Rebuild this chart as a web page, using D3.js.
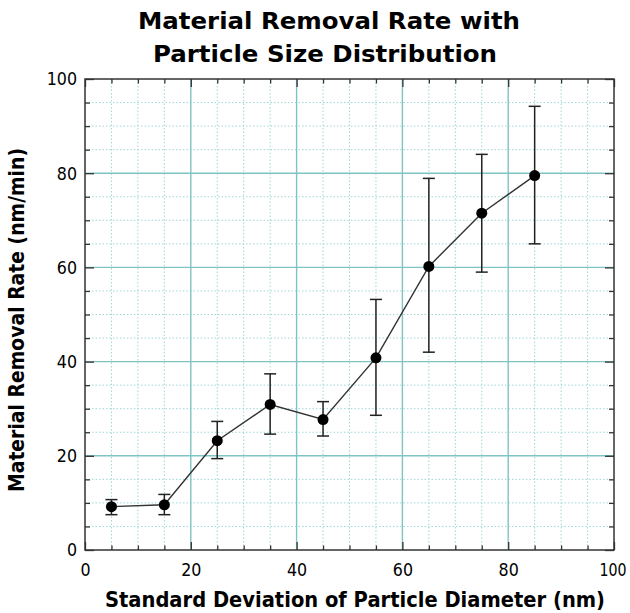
<!DOCTYPE html>
<html><head><meta charset="utf-8">
<script src="https://cdn.jsdelivr.net/npm/d3@7"></script>
<style>body{margin:0;background:#fff;} svg{display:block;}</style>
</head><body>
<svg id="chart" width="630" height="613"></svg>
<script>
const xValues = [5, 15, 25, 35, 45, 55, 65, 75, 85];
const rates = [9.2, 9.6, 23.2, 30.9, 27.7, 40.8, 60.2, 71.5, 79.5];
const errLow = [7.5, 7.5, 19.4, 24.6, 24.2, 28.6, 42.0, 59.0, 65.0];
const errHigh = [10.7, 11.8, 27.3, 37.4, 31.5, 53.2, 78.9, 84.0, 94.2];
const majorTicks = [0, 20, 40, 60, 80, 100];
const titleLines = ["Material Removal Rate with", "Particle Size Distribution"];
const xLabel = "Standard Deviation of Particle Diameter (nm)";
const yLabel = "Material Removal Rate (nm/min)";

const svg = d3.select("#chart");
const L = 85, R = 614, T = 79, B = 550;
const x = d3.scaleLinear().domain([0, 100]).range([L, R]);
const y = d3.scaleLinear().domain([0, 100]).range([B, T]);
const minor = d3.range(5, 100, 5).filter(v => v % 20 !== 0);

// minor grid
const g = svg.append("g");
g.selectAll(".mgx").data(minor).enter().append("line")
  .attr("x1", d => x(d)).attr("x2", d => x(d)).attr("y1", T).attr("y2", B)
  .attr("stroke", "#a0d6d6").attr("stroke-width", 1).attr("stroke-dasharray", "1.5,2");
g.selectAll(".mgy").data(minor).enter().append("line")
  .attr("y1", d => y(d)).attr("y2", d => y(d)).attr("x1", L).attr("x2", R)
  .attr("stroke", "#a0d6d6").attr("stroke-width", 1).attr("stroke-dasharray", "1.5,2");
// major grid
const inner = [20, 40, 60, 80];
g.selectAll(".Mgx").data(inner).enter().append("line")
  .attr("x1", d => x(d)).attr("x2", d => x(d)).attr("y1", T).attr("y2", B)
  .attr("stroke", "#80c3c3").attr("stroke-width", 1.4);
g.selectAll(".Mgy").data(inner).enter().append("line")
  .attr("y1", d => y(d)).attr("y2", d => y(d)).attr("x1", L).attr("x2", R)
  .attr("stroke", "#80c3c3").attr("stroke-width", 1.4);

// axes with inward ticks
function axisTicks(axisGen, transform, vals, size) {
  svg.append("g").attr("transform", transform)
    .call(axisGen.tickValues(vals).tickSize(size).tickFormat(""))
    .call(s => s.select(".domain").remove())
    .selectAll("line").attr("stroke", "#333").attr("stroke-width", 1.3);
}
axisTicks(d3.axisTop(x), `translate(0,${B})`, minor, 4.5);
axisTicks(d3.axisTop(x), `translate(0,${B})`, majorTicks, 8);
axisTicks(d3.axisBottom(x), `translate(0,${T})`, minor, 4.5);
axisTicks(d3.axisBottom(x), `translate(0,${T})`, majorTicks, 8);
axisTicks(d3.axisRight(y), `translate(${L},0)`, minor, 5);
axisTicks(d3.axisRight(y), `translate(${L},0)`, majorTicks, 9);
axisTicks(d3.axisLeft(y), `translate(${R},0)`, minor, 5);
axisTicks(d3.axisLeft(y), `translate(${R},0)`, majorTicks, 9);

// frame
svg.append("rect").attr("x", L).attr("y", T).attr("width", R - L).attr("height", B - T)
  .attr("fill", "none").attr("stroke", "#333").attr("stroke-width", 1.5);

// tick labels (condensed look)
const tlen = d => String(d).length * 10.1;
const xl = svg.append("g").attr("transform", `translate(0,${B})`)
  .call(d3.axisBottom(x).tickValues(majorTicks).tickSize(0).tickPadding(0).tickFormat(d3.format("d")));
xl.select(".domain").remove();
xl.selectAll("text").attr("font-family", "DejaVu Sans").attr("fill", "#000")
  .attr("dy", null).attr("y", 26)
  .attr("font-size", d => d === 100 ? 17.5 : 18.5)
  .attr("text-anchor", d => d === 100 ? "end" : "middle")
  .attr("dx", d => d === 100 ? 12 : 0)
  .attr("textLength", d => d === 100 ? 27 : tlen(d)).attr("lengthAdjust", "spacingAndGlyphs");
const yl = svg.append("g").attr("transform", `translate(77,0)`)
  .call(d3.axisLeft(y).tickValues(majorTicks).tickSize(0).tickPadding(0).tickFormat(d3.format("d")));
yl.select(".domain").remove();
yl.selectAll("text").attr("font-family", "DejaVu Sans").attr("font-size", 18.5).attr("fill", "#000")
  .attr("textLength", d => tlen(d)).attr("lengthAdjust", "spacingAndGlyphs");

// data line
const data = xValues.map((v, i) => ({x: v, y: rates[i], lo: errLow[i], hi: errHigh[i]}));
svg.append("path").datum(data)
  .attr("d", d3.line().x(d => x(d.x)).y(d => y(d.y)))
  .attr("fill", "none").attr("stroke", "#333").attr("stroke-width", 1.4);

// error bars
const eb = svg.append("g").attr("stroke", "#222").attr("stroke-width", 1.5);
eb.selectAll(".v").data(data).enter().append("line")
  .attr("x1", d => x(d.x)).attr("x2", d => x(d.x)).attr("y1", d => y(d.lo)).attr("y2", d => y(d.hi));
eb.selectAll(".ct").data(data).enter().append("line")
  .attr("x1", d => x(d.x) - 6).attr("x2", d => x(d.x) + 6).attr("y1", d => y(d.hi)).attr("y2", d => y(d.hi));
eb.selectAll(".cb").data(data).enter().append("line")
  .attr("x1", d => x(d.x) - 6).attr("x2", d => x(d.x) + 6).attr("y1", d => y(d.lo)).attr("y2", d => y(d.lo));

// points
svg.append("g").selectAll("circle").data(data).enter().append("circle")
  .attr("cx", d => x(d.x)).attr("cy", d => y(d.y)).attr("r", 5.5).attr("fill", "#000");

// title
const titleWidths = [382, 344];
const titleStarts = [138, 153];
svg.append("g").selectAll("text").data(titleLines).enter().append("text")
  .attr("x", (d, i) => titleStarts[i]).attr("y", (d, i) => 29 + i * 33)
  .attr("font-family", "DejaVu Sans").attr("font-weight", "bold").attr("font-size", 22.5).attr("fill", "#000")
  .attr("textLength", (d, i) => titleWidths[i]).attr("lengthAdjust", "spacingAndGlyphs")
  .text(d => d);

// axis labels
svg.append("text").attr("x", 105).attr("y", 607)
  .attr("font-family", "DejaVu Sans").attr("font-weight", "bold").attr("font-size", 20.5).attr("fill", "#000")
  .attr("textLength", 500).attr("lengthAdjust", "spacingAndGlyphs")
  .text(xLabel);
svg.append("text").attr("transform", "translate(24,492) rotate(-90)")
  .attr("font-family", "DejaVu Sans").attr("font-weight", "bold").attr("font-size", 20.5).attr("fill", "#000")
  .attr("textLength", 344).attr("lengthAdjust", "spacingAndGlyphs")
  .text(yLabel);
</script>
</body></html>
